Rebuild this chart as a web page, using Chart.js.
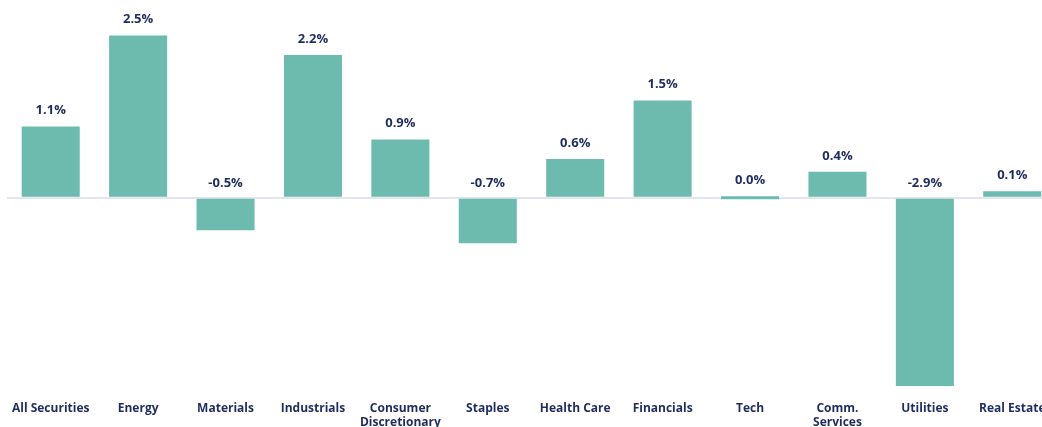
<!DOCTYPE html>
<html>
	<head>
		<meta charset="utf-8">
		<script src="https://cdn.jsdelivr.net/npm/chart.js@4.4.1/dist/chart.umd.min.js"></script>
		<title>Sector returns</title>
		<style>
			html, body { margin: 0; padding: 0; background: #ffffff; overflow: hidden; }
			#wrap { position: relative; width: 1056px; height: 427px; }
		</style>
	</head>
	<body>
		<div id="wrap"><canvas id="myChart"></canvas></div>
		<script>
			var sectors = ['All Securities', 'Energy', 'Materials', 'Industrials', ['Consumer', 'Discretionary'], 'Staples',
				'Health Care', 'Financials', 'Tech', ['Comm.', 'Services'], 'Utilities', 'Real Estate'];
			var returns = [1.1, 2.5, -0.5, 2.2, 0.9, -0.7, 0.6, 1.5, 0.0, 0.4, -2.9, 0.1];

			var navy = '#1e2c5f';
			var teal = '#6cbbae';

			// value labels above each bar (negative bars get theirs above the zero line)
			var valueLabels = {
				id: 'valueLabels',
				afterDatasetsDraw: function (chart) {
					var ctx = chart.ctx;
					var meta = chart.getDatasetMeta(0);
					ctx.save();
					ctx.font = '700 13px "Open Sans"';
					ctx.fillStyle = navy;
					ctx.textAlign = 'center';
					ctx.textBaseline = 'middle';
					meta.data.forEach(function (bar, i) {
						var top = Math.min(bar.y, bar.base);
						ctx.fillText(returns[i].toFixed(1) + '%', bar.x, top - 16);
					});
					ctx.restore();
				}
			};

			var chart = new Chart(document.getElementById('myChart'), {
				type: 'bar',
				data: {
					labels: sectors,
					datasets: [{
						data: returns,
						backgroundColor: teal,
						barPercentage: 0.664,
						categoryPercentage: 1,
						minBarLength: 3
					}]
				},
				options: {
					responsive: true,
					maintainAspectRatio: false,
					animation: false,
					layout: { padding: { left: 7, top: 16, right: 0, bottom: -10 } },
					plugins: { legend: { display: false }, tooltip: { enabled: false } },
					scales: {
						x: {
							grid: { display: false },
							border: { display: false },
							ticks: {
								autoSkip: false,
								maxRotation: 0,
								padding: 7,
								color: navy,
								font: { family: 'Open Sans', weight: '700', size: 12 }
							}
						},
						y: {
							min: -2.9,
							max: 2.8,
							border: { display: false },
							grid: {
								drawTicks: false,
								lineWidth: 2,
								color: function (c) { return c.tick.value === 0 ? '#e2e4f2' : 'rgba(0,0,0,0)'; }
							},
							ticks: { display: false, stepSize: 0.1 }
						}
					}
				},
				plugins: [valueLabels]
			});
		</script>
	</body>
</html>
